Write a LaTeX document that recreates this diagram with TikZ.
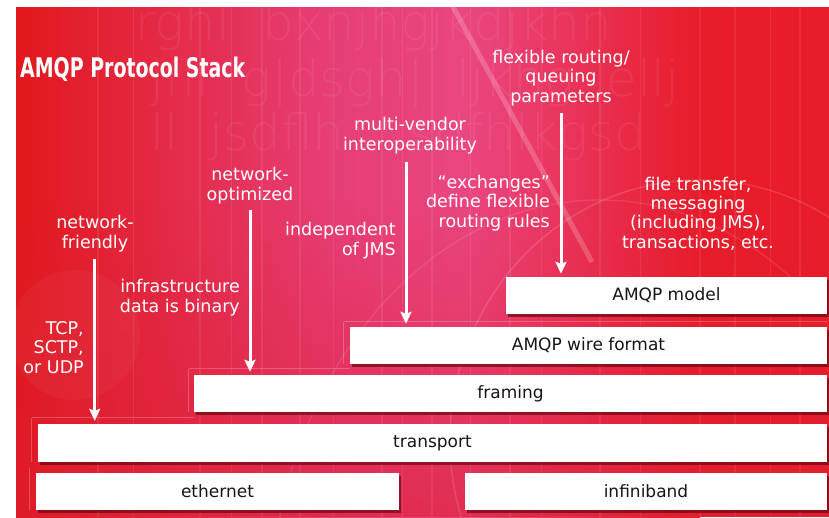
\documentclass[tikz,border=0pt]{standalone}
\usepackage{fontspec}
\setmainfont{DejaVu Sans}
\newfontfamily\titlefont{DejaVu Sans Condensed Bold}
\newfontfamily\ghostfont{DejaVu Sans ExtraLight}
\usepackage{graphicx}
\usetikzlibrary{shadows,fadings,arrows.meta}

\definecolor{bgred}{RGB}{226,24,28}
\definecolor{bgpink}{RGB}{231,62,118}
\definecolor{bgpinkB}{RGB}{234,70,128}
\definecolor{bgredR}{RGB}{233,28,42}
\definecolor{bgbottom}{RGB}{220,30,50}
\definecolor{shadowred}{RGB}{105,8,18}
\definecolor{boxtext}{RGB}{22,22,22}

\begin{document}
\begin{tikzpicture}[x=1pt,y=-1pt,
  stackbox/.style={fill=white, inner sep=0pt, text=boxtext,
    font=\fontsize{17}{19}\selectfont,
    drop shadow={shadow xshift=1.5pt, shadow yshift=-3pt, fill=shadowred, opacity=0.7}},
  note/.style={text=white, inner sep=0pt, font=\fontsize{17.5}{19.3}\selectfont},
  flow/.style={white, line width=3pt,
    -{Stealth[length=12pt,width=11pt,inset=2pt]}, shorten >=3pt},
  ghost/.style={white, opacity=0.065, font=\ghostfont\fontsize{50}{50}\selectfont,
    anchor=base west, inner sep=0pt},
  stripe/.style={white, opacity=0.08},
  stepline/.style={draw=white, draw opacity=0.22, line width=0.8pt},
]
\useasboundingbox (0,0) rectangle (829,517);

% ---------- background panel ----------
\begin{scope}
  \clip (16,7) rectangle (829,517);
  \shade[left color=bgred, right color=bgpink] (16,7) rectangle (330,517);
  \shade[left color=bgpink, right color=bgpinkB] (329,7) rectangle (470,517);
  \shade[left color=bgpinkB, right color=bgredR] (469,7) rectangle (700,517);
  \fill[bgredR] (699,7) rectangle (829,517);
  \fill[bgbottom, path fading=north, opacity=0.6] (16,200) rectangle (829,517);

  % soft glow spots and arcs
  \fill[white, opacity=0.035] (75,335) circle (65);
  \draw[white, opacity=0.13, line width=1.6pt] (700,440) ellipse (250 and 260);
  \draw[white, opacity=0.10, line width=1.4pt] (600,620) ellipse (330 and 420);
  \draw[white, opacity=0.2, line width=5pt] (452,5) -- (592,262);

  % vertical light stripes
  \foreach \sx/\sw in {98/1.5,133/1,200/2,231/1,262/1.5,300/2.5,333/1,382/1.5,
      402/1,432/2,470/1,510/1.5,541/1,600/2,640/1,700/1.5,735/2,770/1,800/2.5}
    \draw[stripe, line width=\sw pt] (\sx,7) -- (\sx,517);

  % faint lettering texture
  \node[ghost] (g1) at (135,40) {rghl\ \ bxnjhgjkdjkhn};
  \node[ghost] (g2) at (150,96) {jfll\ \ g|dsgh|\ \ ljkhg\ \ ellj};
  \node[ghost] (g3) at (150,150) {ll\ \ jsdflh\ \ \ \ sdfhlkgsd};
\end{scope}

% ---------- title ----------
\node[text=white, inner sep=0pt, anchor=base west, font=\titlefont\fontsize{27}{28}\selectfont]
  (title) at (20,77) {\scalebox{0.78}[1]{AMQP Protocol Stack}};

% ---------- protocol layers ----------
\node[stackbox, minimum width=321pt, minimum height=37pt] (model)      at (666.5,295.5) {AMQP model};
\node[stackbox, minimum width=477pt, minimum height=37pt] (wire)       at (588.5,345.5) {AMQP wire format};
\node[stackbox, minimum width=633pt, minimum height=37pt] (framing)    at (510.5,393.5) {framing};
\node[stackbox, minimum width=789pt, minimum height=38pt] (transport)  at (432.5,443)   {transport};
\node[stackbox, minimum width=363pt, minimum height=37pt] (ethernet)   at (217.5,491.5) {ethernet};
\node[stackbox, minimum width=362pt, minimum height=37pt] (infiniband) at (646,491.5)   {infiniband};

% faint step outlines beside the layers
\draw[stepline] ([shift={(-6,-5)}]wire.north west) -- ([shift={(0,-5)}]wire.north east);
\draw[stepline] ([shift={(-6,-5)}]wire.north west) -- ([shift={(-6,0)}]wire.south west);
\draw[stepline] ([shift={(-5,-6)}]framing.north west) -- ([shift={(0,-6)}]framing.north west -| wire.west);
\draw[stepline] ([shift={(-5,-6)}]framing.north west) -- ([shift={(-5,0)}]framing.south west);
\draw[stepline] ([shift={(-6,-6)}]transport.north west) -- ([shift={(0,-6)}]transport.north west -| framing.west);
\draw[stepline] ([shift={(-6,-6)}]transport.north west) -- ([shift={(-6,0)}]transport.south west);
\draw[stepline] ([shift={(-6,-5)}]ethernet.north west) -- ([shift={(-6,0)}]ethernet.south west);

% ---------- annotations (placed by the baseline of their last line) ----------
\node[note, align=center, anchor=base]      (friendly)   at (95,248)  {network-\\friendly};
\node[note, align=center, anchor=base]      (optimized)  at (250,200) {network-\\optimized};
\node[note, align=right,  anchor=base east] (indep)      at (396,255) {independent\\of JMS};
\node[note, align=center, anchor=base]      (vendor)     at (410,150) {multi-vendor\\interoperability};
\node[note, align=center, anchor=base]      (flexible)   at (561,102) {flexible routing/\\queuing\\parameters};
\node[note, align=right,  anchor=base east] (exchanges)  at (550,227) {“exchanges”\\define flexible\\routing rules};
\node[note, align=center, anchor=base]      (filetx)     at (698,248) {file transfer,\\messaging\\(including JMS),\\transactions, etc.};
\node[note, align=right,  anchor=base east] (infra)      at (240,312) {infrastructure\\data is binary};
\node[note, align=right,  anchor=base east] (tcp)        at (84,373)  {TCP,\\SCTP,\\or UDP};

% ---------- arrows ----------
\coordinate (a1) at (94.7,259);
\coordinate (a2) at (250,210);
\coordinate (a3) at (406,162);
\coordinate (a4) at (561,113);
\draw[flow] (a1) -- (a1 |- transport.north);
\draw[flow] (a2) -- (a2 |- framing.north);
\draw[flow] (a3) -- (a3 |- wire.north);
\draw[flow] (a4) -- (a4 |- model.north);
\end{tikzpicture}
\end{document}
